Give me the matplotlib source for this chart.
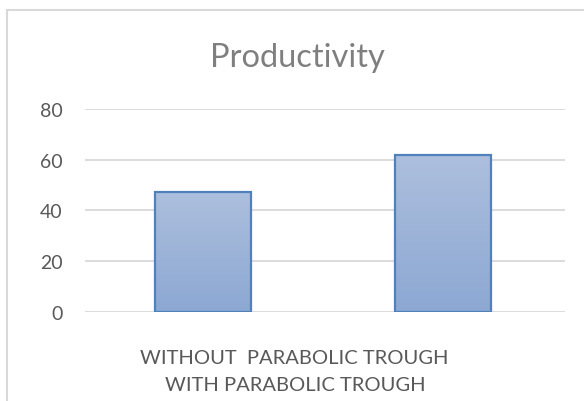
import matplotlib.pyplot as plt
import numpy as np
from matplotlib.lines import Line2D

categories = ['WITHOUT  PARABOLIC TROUGH', 'WITH PARABOLIC TROUGH']
values = [47.3, 62]
yticks = [0, 20, 40, 60, 80]

plt.rcParams['font.family'] = ['Lato', 'DejaVu Sans']

fig = plt.figure(figsize=(5.84, 4.02), dpi=100)
ax = fig.add_axes([0.1455, 0.2214, 0.822, 0.505])

x = np.arange(len(values))
bars = ax.bar(x, values, width=0.4, color='none', edgecolor='#4f81bd', linewidth=1.6, zorder=3)

# vertical gradient fill inside each bar
grad = np.linspace(0, 1, 256).reshape(-1, 1)
cmap = plt.matplotlib.colors.LinearSegmentedColormap.from_list('g', ['#8ca8d3', '#adbfdd'])
for b in bars:
    ax.imshow(grad, cmap=cmap, origin='lower', aspect='auto', zorder=2,
              extent=(b.get_x(), b.get_x() + b.get_width(), 0, b.get_height()))

ax.set_xlim(-0.49, 1.51)
ax.set_ylim(0, 80)
ax.set_yticks(yticks)
ax.set_xticks([])
ax.yaxis.grid(True, color='#d9d9d9', linewidth=1.3)
ax.set_axisbelow(True)
for s in ax.spines.values():
    s.set_visible(False)
ax.tick_params(axis='y', length=0, pad=16, labelsize=14, labelcolor='#595959')

fig.text(0.51, 0.856, 'Productivity', ha='center', va='center', fontsize=23.5, color='#7f7f7f')
fig.text(0.503, 0.109, categories[0], ha='center', va='center', fontsize=14.5, color='#595959')
fig.text(0.505, 0.04, categories[1], ha='center', va='center', fontsize=14.5, color='#595959')

# chart area border (partially visible)
fig.add_artist(Line2D([0.012, 0.012], [0, 0.9726], color='#d9d9d9', linewidth=1.5, transform=fig.transFigure))
fig.add_artist(Line2D([0.012, 1], [0.9726, 0.9726], color='#d9d9d9', linewidth=1.5, transform=fig.transFigure))

fig.savefig('out.png', dpi=100)
